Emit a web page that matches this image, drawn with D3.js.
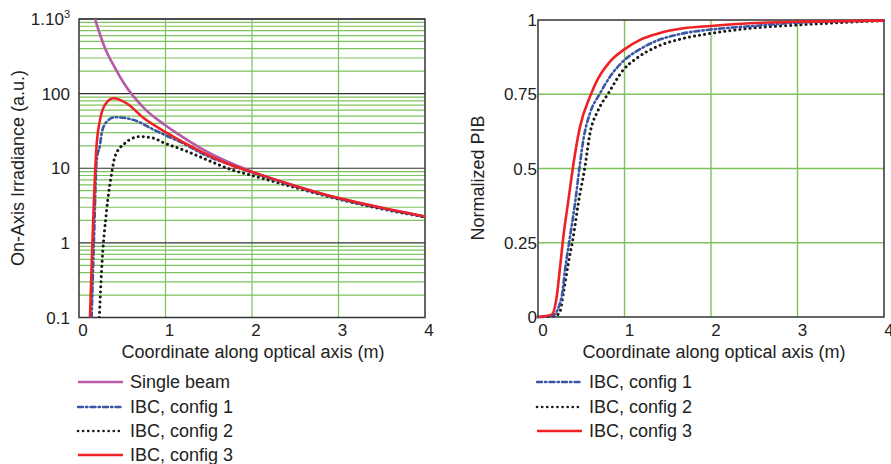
<!DOCTYPE html>
<html><head><meta charset="utf-8">
<script src="https://cdn.jsdelivr.net/npm/d3@7"></script>
<style>body{margin:0;background:#fff}svg{display:block;font-family:"Liberation Sans",Arial,sans-serif}</style>
</head><body><svg id="c" width="891" height="464"></svg>
<script>
// ---- Left panel: on-axis irradiance (log scale) ----
const irrSingleX = [0.185,0.30,0.416,0.51,0.763,0.994,1.13,1.4,1.78,2.0,2.5,3.0,3.5,4.0];
const irrSingleY = [1000,409,221,143,62,38,29.5,18.8,11.4,9.0,5.8,3.98,2.95,2.26];
const irrC1X = [0.146,0.173,0.205,0.243,0.262,0.32,0.416,0.628,0.86,0.99,1.206,1.4,1.78,2.0,2.5,3.0,3.5,4.0];
const irrC1Y = [0.1,1.1,12.9,20.6,29.5,42,48.3,44.5,33,28,21.5,16.2,10.8,8.8,5.7,3.9,2.9,2.24];
const irrC2X = [0.235,0.262,0.32,0.378,0.416,0.532,0.705,0.86,0.99,1.206,1.4,1.78,2.0,2.5,3.0,3.5,4.0];
const irrC2Y = [0.1,0.44,2.77,8.6,14.4,21.7,26.6,25.3,21.7,17.6,14.2,9.4,8.0,5.5,3.85,2.85,2.22];
const irrC3X = [0.127,0.205,0.243,0.30,0.397,0.55,0.743,0.99,1.4,1.78,2.0,2.5,3.0,3.5,4.0];
const irrC3Y = [0.1,21.7,44.5,70.6,86.8,74.3,47.5,31,17,10.8,8.9,5.8,3.98,2.95,2.26];
const irrYTicks = [0.1,1,10,100,1000];
const irrYLabels = ["0.1","1","10","100","1.10"];
const xTicks = [0,1,2,3,4];

// ---- Right panel: normalized PIB ----
const pibC1X = [0,0.17,0.274,0.312,0.37,0.428,0.486,0.524,0.601,0.717,0.832,0.998,1.14,1.372,1.68,2.0,2.45,3.0,4.0];
const pibC1Y = [0,0.005,0.068,0.158,0.27,0.383,0.518,0.596,0.686,0.753,0.809,0.865,0.895,0.93,0.955,0.968,0.979,0.991,0.998];
const pibC2X = [0,0.2,0.254,0.293,0.35,0.408,0.466,0.543,0.601,0.697,0.813,0.986,1.14,1.372,1.68,2.0,2.45,3.0,4.0];
const pibC2Y = [0,0.004,0.018,0.08,0.18,0.27,0.383,0.506,0.618,0.697,0.753,0.832,0.871,0.91,0.938,0.955,0.972,0.983,0.998];
const pibC3X = [0,0.158,0.216,0.254,0.293,0.35,0.408,0.486,0.601,0.697,0.832,0.998,1.18,1.372,1.68,2.0,2.45,3.0,4.0];
const pibC3Y = [0,0.008,0.068,0.165,0.27,0.39,0.512,0.641,0.742,0.804,0.86,0.901,0.933,0.953,0.972,0.98,0.989,0.994,0.998];
const pibYTicks = [0,0.25,0.5,0.75,1];
const pibYLabels = ["0","0.25","0.5","0.75","1"];

const svg = d3.select("#c");
const GREEN = "#7cc35b", BORDER = "#333";
const styles = {
  single:{color:"#b65aa9", dash:null, cap:"butt"},
  c1:{color:"#3a56a5", dash:"5,3,1.5,3", cap:"round"},
  c2:{color:"#1a1a1a", dash:"0.1,5", cap:"round"},
  c3:{color:"#ee2226", dash:null, cap:"butt"}
};
const zip = (xs,ys)=>xs.map((x,i)=>[x,ys[i]]);

// ===== Left panel =====
const xL = d3.scaleLinear().domain([0,4]).range([79,425]);
const yL = d3.scaleLog().domain([0.1,1000]).range([317.5,19]);
const gL = svg.append("g");
for (let d=0.1; d<1000; d*=10) {
  for (let m=2;m<=9;m++) {
    const y=yL(d*m);
    gL.append("line").attr("x1",79).attr("x2",425).attr("y1",y).attr("y2",y).attr("stroke",GREEN).attr("stroke-width",1.2);
  }
}
xTicks.slice(1,4).forEach(t=>gL.append("line").attr("x1",xL(t)).attr("x2",xL(t)).attr("y1",19).attr("y2",317.5).attr("stroke",GREEN).attr("stroke-width",1.2));
irrYTicks.forEach(t=>gL.append("line").attr("x1",79).attr("x2",425).attr("y1",yL(t)).attr("y2",yL(t)).attr("stroke",BORDER).attr("stroke-width",1.2));
gL.append("rect").attr("x",79).attr("y",19).attr("width",346).attr("height",298.5).attr("fill","none").attr("stroke",BORDER).attr("stroke-width",1.5);

const lineL = d3.line().x(d=>xL(d[0])).y(d=>yL(d[1])).curve(d3.curveMonotoneX);
svg.append("clipPath").attr("id","clipL").append("rect").attr("x",79).attr("y",19).attr("width",346).attr("height",299);
[[irrSingleX,irrSingleY,"single"],[irrC2X,irrC2Y,"c2"],[irrC1X,irrC1Y,"c1"],[irrC3X,irrC3Y,"c3"]].forEach(([xs,ys,k])=>{
  const s=styles[k];
  gL.append("path").attr("clip-path","url(#clipL)").attr("d",lineL(zip(xs,ys))).attr("fill","none")
    .attr("stroke",s.color).attr("stroke-width",k==="c2"?3:2.6).attr("stroke-dasharray",s.dash).attr("stroke-linecap",s.cap);
});
irrYTicks.forEach((t,i)=>{
  const tx=gL.append("text").attr("x",70).attr("y",yL(t)+6).attr("text-anchor","end").attr("font-size",17).attr("fill","#222").text(irrYLabels[i]);
  if(t===1000) tx.append("tspan").attr("font-size",11).attr("dy",-7).text("3");
});
xTicks.forEach(t=>gL.append("text").attr("x",xL(t)+4).attr("y",336).attr("text-anchor","middle").attr("font-size",17).attr("fill","#222").text(t));
gL.append("text").attr("x",253).attr("y",358).attr("text-anchor","middle").attr("font-size",18).attr("fill","#222").text("Coordinate along optical axis (m)");
gL.append("text").attr("transform","translate(24,168) rotate(-90)").attr("text-anchor","middle").attr("font-size",18).attr("fill","#222").text("On-Axis Irradiance (a.u.)");

const legL=[["single","Single beam"],["c1","IBC, config 1"],["c2","IBC, config 2"],["c3","IBC, config 3"]];
const legLY=[382,407,431,455];
legL.forEach(([k,lab],i)=>{
  const s=styles[k];
  gL.append("line").attr("x1",78).attr("x2",k==="c2"?119:123).attr("y1",legLY[i]).attr("y2",legLY[i]).attr("stroke",s.color)
    .attr("stroke-width",k==="c2"?2.6:2.4).attr("stroke-dasharray",s.dash).attr("stroke-linecap",s.cap);
  gL.append("text").attr("x",130).attr("y",legLY[i]+6).attr("font-size",18).attr("fill","#222").text(lab);
});

// ===== Right panel =====
const xR = d3.scaleLinear().domain([0,4]).range([538,884]);
const yR = d3.scaleLinear().domain([0,1]).range([317,20]);
const gR = svg.append("g");
xTicks.slice(1,4).forEach(t=>gR.append("line").attr("x1",xR(t)).attr("x2",xR(t)).attr("y1",20).attr("y2",317).attr("stroke",GREEN).attr("stroke-width",1.4));
pibYTicks.slice(1,4).forEach(t=>gR.append("line").attr("x1",538).attr("x2",884).attr("y1",yR(t)).attr("y2",yR(t)).attr("stroke",GREEN).attr("stroke-width",1.4));
gR.append("rect").attr("x",538).attr("y",20).attr("width",346).attr("height",297).attr("fill","none").attr("stroke",BORDER).attr("stroke-width",1.5);
const lineR = d3.line().x(d=>xR(d[0])).y(d=>yR(d[1])).curve(d3.curveMonotoneX);
[[pibC2X,pibC2Y,"c2"],[pibC1X,pibC1Y,"c1"],[pibC3X,pibC3Y,"c3"]].forEach(([xs,ys,k])=>{
  const s=styles[k];
  gR.append("path").attr("d",lineR(zip(xs,ys))).attr("fill","none")
    .attr("stroke",s.color).attr("stroke-width",k==="c2"?3:2.6).attr("stroke-dasharray",s.dash).attr("stroke-linecap",s.cap);
});
pibYTicks.forEach((t,i)=>gR.append("text").attr("x",537).attr("y",yR(t)+6).attr("text-anchor","end").attr("font-size",17).attr("fill","#222").text(pibYLabels[i]));
xTicks.forEach(t=>gR.append("text").attr("x",xR(t)+5).attr("y",336).attr("text-anchor","middle").attr("font-size",17).attr("fill","#222").text(t));
gR.append("text").attr("x",714).attr("y",358).attr("text-anchor","middle").attr("font-size",18).attr("fill","#222").text("Coordinate along optical axis (m)");
gR.append("text").attr("transform","translate(484,178) rotate(-90)").attr("text-anchor","middle").attr("font-size",18).attr("fill","#222").text("Normalized PIB");

const legR=[["c1","IBC, config 1"],["c2","IBC, config 2"],["c3","IBC, config 3"]];
const legRY=[382,407,431];
legR.forEach(([k,lab],i)=>{
  const s=styles[k];
  gR.append("line").attr("x1",537).attr("x2",k==="c2"?578:582).attr("y1",legRY[i]).attr("y2",legRY[i]).attr("stroke",s.color)
    .attr("stroke-width",k==="c2"?2.6:2.4).attr("stroke-dasharray",s.dash).attr("stroke-linecap",s.cap);
  gR.append("text").attr("x",589).attr("y",legRY[i]+6).attr("font-size",18).attr("fill","#222").text(lab);
});
</script></body></html>
